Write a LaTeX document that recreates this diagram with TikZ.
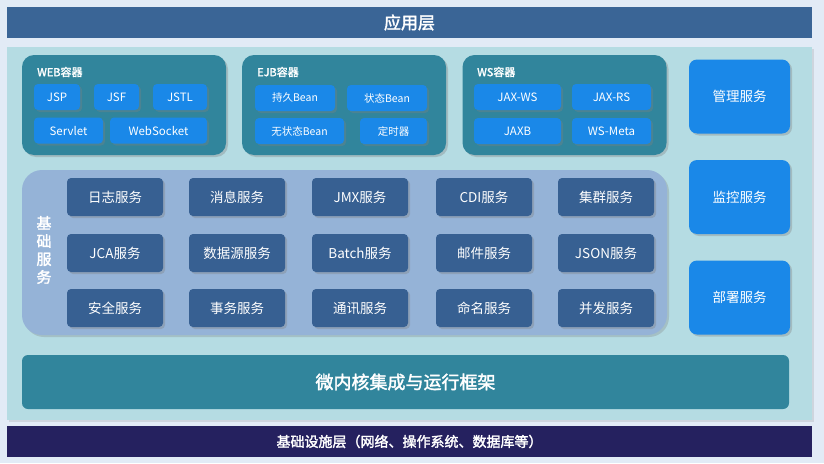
\documentclass[tikz,border=0pt]{standalone}
\usepackage{fontspec}
\setmainfont{Noto Sans CJK SC}[AutoFakeBold=2]
\usetikzlibrary{shadows,positioning}
\definecolor{pagebg}{HTML}{E2EBF6}
\definecolor{layerblue}{HTML}{3A6596}
\definecolor{panelbg}{HTML}{B5DCE3}
\definecolor{navy}{HTML}{25215F}
\definecolor{teal}{HTML}{31859C}
\definecolor{brightblue}{HTML}{1A88E8}
\definecolor{basebg}{HTML}{95B3D7}
\definecolor{servblue}{HTML}{376092}
\tikzset{
  box/.style={rectangle,rounded corners=4pt,text=white,inner sep=0},
  item/.style={box,fill=brightblue,drop shadow={opacity=0.35,shadow xshift=2pt,shadow yshift=-2pt},
    minimum height=26pt,font=\fontsize{11.5}{13}\selectfont},
  service/.style={box,fill=servblue,minimum width=96pt,minimum height=38pt,
    drop shadow={opacity=0.35,shadow xshift=2pt,shadow yshift=-2pt},font=\fontsize{13.5}{15}\selectfont},
  container/.style={box,fill=teal,rounded corners=12pt,minimum width=204pt,minimum height=100pt,
    drop shadow={opacity=0.35,shadow xshift=2pt,shadow yshift=-2pt}},
  mgmt/.style={box,fill=brightblue,rounded corners=8pt,minimum width=101pt,minimum height=74pt,
    drop shadow={opacity=0.35,shadow xshift=2pt,shadow yshift=-2pt},font=\fontsize{13.5}{15}\selectfont},
  ctitle/.style={text=white,font=\fontsize{11}{13}\selectfont\bfseries,anchor=west,inner sep=0}
}
\begin{document}
\begin{tikzpicture}[x=1pt,y=-1pt]
\useasboundingbox[fill=pagebg] (0,0) rectangle (824,463);

% Top and bottom layers
\node[box,rounded corners=0,fill=layerblue,minimum width=805pt,minimum height=31pt,
  font=\fontsize{17}{19}\selectfont\bfseries] (app) at (409.5,22.5) {应用层};
\node[box,rounded corners=0,fill=panelbg,minimum width=805pt,minimum height=373pt,
  drop shadow={opacity=0.2,shadow xshift=2pt,shadow yshift=-2pt}] (panel) at (409.5,233.5) {};
\node[box,rounded corners=0,fill=navy,minimum width=805pt,minimum height=31pt,
  font=\fontsize{14}{16}\selectfont\bfseries] (infra) at (409.5,441.5) {基础设施层（网络、操作系统、数据库等）};

% WEB container
\node[container] (web) at (124,105) {};
\node[ctitle] (webt) at (37,72) {WEB容器};
\node[item,minimum width=46pt] (jsp) at (57,97) {JSP};
\node[item,minimum width=45pt] (jsf) at (116.5,97) {JSF};
\node[item,minimum width=54pt] (jstl) at (180,97) {JSTL};
\node[item,minimum width=69pt] (servlet) at (68.5,130.5) {Servlet};
\node[item,minimum width=97pt] (websocket) at (158.5,130.5) {WebSocket};

% EJB container
\node[container] (ejb) at (344,105) {};
\node[ctitle] (ejbt) at (257,72) {EJB容器};
\node[item,minimum width=80pt,font=\fontsize{10.5}{12}\selectfont] (persist) at (295,98) {持久Bean};
\node[item,minimum width=80pt,font=\fontsize{10.5}{12}\selectfont] (state) at (387,98) {状态Bean};
\node[item,minimum width=89pt,font=\fontsize{10.5}{12}\selectfont] (stateless) at (299.5,131) {无状态Bean};
\node[item,minimum width=67pt,font=\fontsize{10.5}{12}\selectfont] (timer) at (393.5,131) {定时器};

% WS container
\node[container] (ws) at (564.5,105) {};
\node[ctitle] (wst) at (477,72) {WS容器};
\node[item,minimum width=87pt] (jaxws) at (517.5,97) {JAX-WS};
\node[item,minimum width=79pt] (jaxrs) at (611.5,97) {JAX-RS};
\node[item,minimum width=87pt] (jaxb) at (517.5,131) {JAXB};
\node[item,minimum width=79pt] (wsmeta) at (611.5,131) {WS-Meta};

% Management services
\node[mgmt] (manage) at (739.5,96.5) {管理服务};
\node[mgmt] (monitor) at (739.5,197) {监控服务};
\node[mgmt] (deploy) at (739.5,297.5) {部署服务};

% Base services
\node[box,fill=basebg,rounded corners=20pt,minimum width=645pt,minimum height=165pt,
  drop shadow={opacity=0.3,shadow xshift=2pt,shadow yshift=-2pt}] (base) at (344.5,252.5) {};
\node[text=white,font=\fontsize{15}{18}\selectfont\bfseries,align=center,inner sep=0] (baset) at (44,250)
  {基\\础\\服\\务};

\node[service] (log) at (115,197) {日志服务};
\node[service] (msg) at (237,197) {消息服务};
\node[service] (jmx) at (360,197) {JMX服务};
\node[service] (cdi) at (484,197) {CDI服务};
\node[service] (cluster) at (606,197) {集群服务};

\node[service] (jca) at (115,253) {JCA服务};
\node[service] (datasrc) at (237,253) {数据源服务};
\node[service] (batch) at (360,253) {Batch服务};
\node[service] (mail) at (484,253) {邮件服务};
\node[service] (json) at (606,253) {JSON服务};

\node[service] (security) at (115,308) {安全服务};
\node[service] (trans) at (237,308) {事务服务};
\node[service] (comm) at (360,308) {通讯服务};
\node[service] (naming) at (484,308) {命名服务};
\node[service] (conc) at (606,308) {并发服务};

% Microkernel
\node[box,fill=teal,rounded corners=6pt,minimum width=767pt,minimum height=54pt,
  font=\fontsize{18}{20}\selectfont\bfseries] (kernel) at (405.5,382) {微内核集成与运行框架};
\end{tikzpicture}
\end{document}
